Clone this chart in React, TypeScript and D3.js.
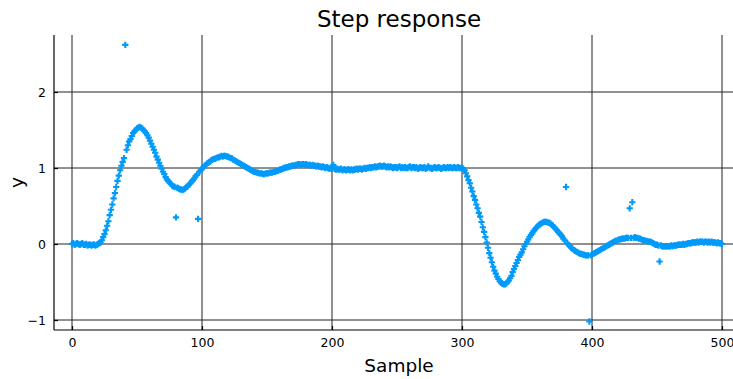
import React, { useRef, useEffect } from "react";
import * as d3 from "d3";

// step response, one value per sample (0..500)
const response: number[] = [
  0.0, 0.01, -0.01, 0.0, 0.01, 0.0, -0.01, 0.0, 0.01, -0.01,
  -0.01, 0.0, -0.02, -0.01, -0.01, -0.02, -0.01, -0.01, -0.02, -0.01,
  0.0, 0.01, 0.02, 0.05, 0.09, 0.13, 0.18, 0.24, 0.3, 0.38,
  0.45, 0.52, 0.6, 0.67, 0.75, 0.83, 0.9, 0.97, 1.03, 1.08,
  1.13, 2.62, 1.24, 1.3, 1.35, 1.38, 1.42, 1.46, 1.48, 1.5,
  1.52, 1.53, 1.54, 1.53, 1.52, 1.5, 1.48, 1.46, 1.43, 1.4,
  1.36, 1.32, 1.28, 1.24, 1.2, 1.15, 1.11, 1.07, 1.03, 0.99,
  0.95, 0.92, 0.88, 0.85, 0.83, 0.81, 0.79, 0.77, 0.76, 0.75,
  0.35, 0.74, 0.73, 0.72, 0.72, 0.71, 0.72, 0.73, 0.75, 0.76,
  0.78, 0.8, 0.82, 0.84, 0.86, 0.89, 0.91, 0.33, 0.95, 0.97,
  0.99, 1.01, 1.03, 1.04, 1.06, 1.07, 1.08, 1.1, 1.11, 1.12,
  1.12, 1.13, 1.14, 1.14, 1.15, 1.16, 1.15, 1.16, 1.16, 1.15,
  1.15, 1.14, 1.13, 1.13, 1.11, 1.1, 1.09, 1.08, 1.07, 1.06,
  1.05, 1.04, 1.03, 1.02, 1.01, 1.0, 0.99, 0.98, 0.97, 0.96,
  0.95, 0.95, 0.94, 0.94, 0.93, 0.93, 0.93, 0.92, 0.92, 0.93,
  0.93, 0.93, 0.94, 0.94, 0.94, 0.95, 0.95, 0.96, 0.96, 0.97,
  0.98, 0.98, 0.99, 1.0, 1.0, 1.01, 1.01, 1.02, 1.02, 1.03,
  1.03, 1.03, 1.04, 1.04, 1.05, 1.05, 1.04, 1.05, 1.05, 1.04,
  1.05, 1.04, 1.04, 1.04, 1.03, 1.04, 1.03, 1.03, 1.02, 1.03,
  1.02, 1.02, 1.01, 1.02, 1.01, 1.0, 1.01, 1.0, 0.99, 1.0,
  0.99, 1.04, 0.99, 0.98, 0.99, 0.98, 0.98, 0.99, 0.97, 0.98,
  0.98, 0.97, 0.98, 0.98, 0.97, 0.98, 0.97, 0.98, 0.98, 0.99,
  0.98, 0.99, 0.99, 0.98, 0.99, 1.0, 0.99, 1.0, 1.0, 1.01,
  1.0, 1.01, 1.01, 1.02, 1.01, 1.02, 1.02, 1.03, 1.02, 1.02,
  1.03, 1.02, 1.01, 1.02, 1.01, 1.02, 1.01, 1.0, 1.01, 1.01,
  1.0, 1.01, 1.02, 1.0, 1.01, 1.0, 1.01, 1.0, 1.0, 1.01,
  1.02, 1.0, 1.01, 1.01, 1.0, 1.01, 0.99, 1.0, 1.01, 1.0,
  1.0, 1.01, 0.99, 1.0, 1.02, 1.0, 1.0, 0.99, 1.0, 1.01,
  1.0, 1.0, 1.01, 1.0, 0.99, 1.0, 1.01, 1.0, 1.0, 1.01,
  1.0, 1.01, 1.0, 1.0, 1.01, 1.0, 1.0, 1.01, 1.0, 1.0,
  1.0, 0.99, 0.97, 0.93, 0.89, 0.84, 0.8, 0.74, 0.69, 0.63,
  0.58, 0.52, 0.47, 0.41, 0.36, 0.29, 0.22, 0.16, 0.09, 0.02,
  -0.05, -0.12, -0.18, -0.24, -0.3, -0.35, -0.39, -0.43, -0.46, -0.49,
  -0.51, -0.52, -0.53, -0.53, -0.52, -0.5, -0.48, -0.45, -0.42, -0.37,
  -0.33, -0.29, -0.25, -0.21, -0.17, -0.14, -0.11, -0.07, -0.03, 0.0,
  0.03, 0.06, 0.09, 0.12, 0.14, 0.17, 0.19, 0.21, 0.23, 0.25,
  0.26, 0.27, 0.28, 0.29, 0.29, 0.29, 0.28, 0.28, 0.27, 0.25,
  0.24, 0.22, 0.2, 0.18, 0.16, 0.14, 0.12, 0.1, 0.07, 0.05,
  0.75, 0.01, -0.01, -0.03, -0.05, -0.06, -0.08, -0.09, -0.1, -0.11,
  -0.12, -0.13, -0.13, -0.14, -0.14, -0.15, -0.15, -0.15, -1.02, -0.15,
  -0.14, -0.13, -0.12, -0.11, -0.1, -0.09, -0.08, -0.07, -0.06, -0.05,
  -0.04, -0.03, -0.02, -0.01, 0.0, 0.01, 0.02, 0.03, 0.04, 0.04,
  0.05, 0.06, 0.06, 0.07, 0.07, 0.07, 0.08, 0.08, 0.08, 0.47,
  0.08, 0.55, 0.08, 0.09, 0.08, 0.08, 0.07, 0.07, 0.06, 0.05,
  0.05, 0.04, 0.04, 0.03, 0.03, 0.03, 0.02, 0.01, 0.0, -0.01,
  -0.01, -0.02, -0.23, -0.02, -0.03, -0.03, -0.03, -0.03, -0.03, -0.03,
  -0.03, -0.02, -0.03, -0.02, -0.02, -0.02, -0.01, -0.01, -0.01, -0.01,
  0.0, -0.01, 0.0, 0.0, 0.01, 0.01, 0.01, 0.02, 0.02, 0.02,
  0.02, 0.03, 0.02, 0.03, 0.03, 0.03, 0.02, 0.03, 0.03, 0.02,
  0.03, 0.02, 0.03, 0.02, 0.02, 0.02, 0.01, 0.02, 0.01, 0.01,
  0.0,
];

const xTicks = [0, 100, 200, 300, 400, 500];
const yTicks = [-1, 0, 1, 2];

const W = 733;
const H = 379;
const FONT = "DejaVu Sans, sans-serif";
const BLUE = "#009AFA";

// plot frame
const left = 54;
const right = 733;
const top = 35;
const bottom = 330;

const StepChart = () => {
  const svgRef = useRef<SVGSVGElement>(null);

  useEffect(() => {
    const svg = d3.select(svgRef.current);
    svg.selectAll("*").remove();

    const xScale = d3.scaleLinear().domain([0, 500]).range([72, 722]);
    const yScale = d3.scaleLinear().domain([-1, 2]).range([320, 92]);

    svg
      .append("defs")
      .append("clipPath")
      .attr("id", "plot-clip")
      .append("rect")
      .attr("x", left)
      .attr("y", top)
      .attr("width", right - left)
      .attr("height", bottom - top);

    //grid
    const grid = svg.append("g").attr("class", "grid");
    grid
      .selectAll(".vgrid")
      .data(xTicks)
      .join("line")
      .attr("x1", (d) => xScale(d))
      .attr("x2", (d) => xScale(d))
      .attr("y1", top)
      .attr("y2", bottom)
      .attr("stroke", "#222")
      .attr("stroke-width", 1);
    grid
      .selectAll(".hgrid")
      .data(yTicks)
      .join("line")
      .attr("x1", left)
      .attr("x2", right)
      .attr("y1", (d) => yScale(d))
      .attr("y2", (d) => yScale(d))
      .attr("stroke", "#222")
      .attr("stroke-width", 1);

    //axes
    const xAxis = d3
      .axisBottom(xScale)
      .tickValues(xTicks)
      .tickSize(-4)
      .tickPadding(8)
      .tickFormat(d3.format("d"));
    const gx = svg
      .append("g")
      .attr("transform", `translate(0,${bottom})`)
      .call(xAxis);
    gx.select(".domain").remove();
    gx.append("line")
      .attr("x1", left)
      .attr("x2", right)
      .attr("stroke", "#000")
      .attr("stroke-width", 1.2);

    const yAxis = d3
      .axisLeft(yScale)
      .tickValues(yTicks)
      .tickSize(-4)
      .tickPadding(8)
      .tickFormat(d3.format("d"));
    const gy = svg
      .append("g")
      .attr("transform", `translate(${left},0)`)
      .call(yAxis);
    gy.select(".domain").remove();
    gy.append("line")
      .attr("y1", top)
      .attr("y2", bottom)
      .attr("stroke", "#000")
      .attr("stroke-width", 1.2);

    [gx, gy].forEach((g) => {
      g.selectAll(".tick line").attr("stroke", "#000").attr("stroke-width", 1.2);
      g.selectAll(".tick text")
        .attr("fill", "#000")
        .style("font-family", FONT)
        .style("font-size", "12.5px");
    });

    //points
    const cross = d3.symbol().type(d3.symbolCross).size(22);
    svg
      .append("g")
      .attr("clip-path", "url(#plot-clip)")
      .selectAll(".pt")
      .data(response)
      .join("path")
      .attr("class", "pt")
      .attr("transform", (d, i) => `translate(${xScale(i)},${yScale(d)})`)
      .attr("d", cross)
      .attr("fill", BLUE);

    //labels
    svg
      .append("text")
      .attr("x", 399)
      .attr("y", 27)
      .attr("text-anchor", "middle")
      .style("font-family", FONT)
      .style("font-size", "23px")
      .text("Step response");
    svg
      .append("text")
      .attr("x", 399)
      .attr("y", 372)
      .attr("text-anchor", "middle")
      .style("font-family", FONT)
      .style("font-size", "18.5px")
      .text("Sample");
    svg
      .append("text")
      .attr("transform", `translate(23,${(top + bottom) / 2}) rotate(-90)`)
      .attr("text-anchor", "middle")
      .style("font-family", FONT)
      .style("font-size", "18.5px")
      .text("y");
  }, []);

  return (
    <svg
      ref={svgRef}
      width={W}
      height={H}
      style={{ position: "absolute", left: 0, top: 0, background: "#fff" }}
    />
  );
};

export default function App() {
  return <StepChart />;
}
